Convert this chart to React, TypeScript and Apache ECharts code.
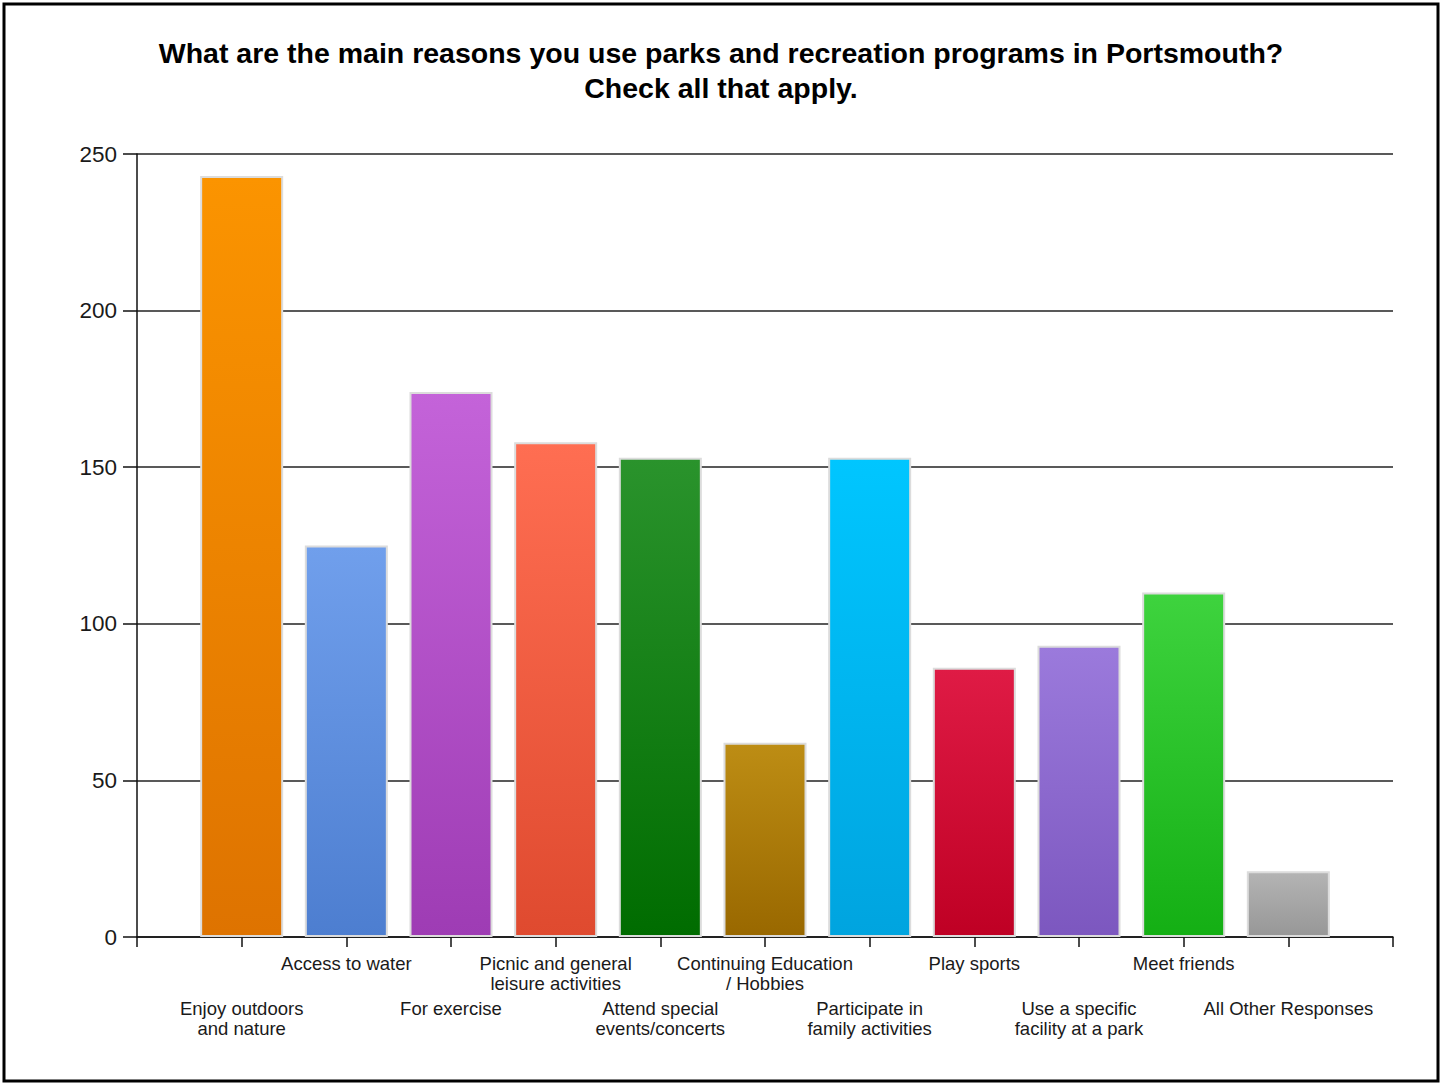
import React, { useEffect, useRef } from "react";
import * as echarts from "echarts";

const titleText =
  "What are the main reasons you use parks and recreation programs in Portsmouth?\nCheck all that apply.";

const categories = [
  "",
  "Enjoy outdoors\nand nature",
  "Access to water",
  "For exercise",
  "Picnic and general\nleisure activities",
  "Attend special\nevents/concerts",
  "Continuing Education\n/ Hobbies",
  "Participate in\nfamily activities",
  "Play sports",
  "Use a specific\nfacility at a park",
  "Meet friends",
  "All Other Responses",
  "",
];

const values = [243, 125, 174, 158, 153, 62, 153, 86, 93, 110, 21];

const topColors = [
  "#FB9400", "#709FEC", "#C463D9", "#FF6E52", "#2A932C", "#BD8D14",
  "#00C6FF", "#DF1B45", "#9B7ADC", "#3ED33E", "#B4B4B4",
];
const bottomColors = [
  "#DE7300", "#4D7ED0", "#9E3CB4", "#DF4A2F", "#006C00", "#996800",
  "#00A4DF", "#BF0024", "#7C57BF", "#14AF14", "#979797",
];

const yTicks = { min: 0, max: 250, interval: 50 };

export default function App() {
  const ref = useRef<HTMLDivElement>(null);

  useEffect(() => {
    if (!ref.current) return;
    const chart = echarts.init(ref.current, null, { renderer: "svg" });

    const barData: any[] = categories.map((c, i) => {
      if (i === 0 || i === categories.length - 1) return "-";
      const k = i - 1;
      return {
        value: values[k],
        itemStyle: {
          color: {
            type: "linear",
            x: 0,
            y: 0,
            x2: 0,
            y2: 1,
            colorStops: [
              { offset: 0, color: topColors[k] },
              { offset: 1, color: bottomColors[k] },
            ],
          },
        },
      };
    });

    const labelFont = {
      fontFamily: "Liberation Sans, Arial, sans-serif",
      fontSize: 18.5,
      lineHeight: 20,
      color: "#1a1a1a",
      align: "center" as const,
    };

    chart.setOption({
      animation: false,
      backgroundColor: "#ffffff",
      title: {
        text: titleText,
        left: "center",
        top: 30,
        textStyle: {
          fontFamily: "Liberation Sans, Arial, sans-serif",
          fontSize: 28.5,
          fontWeight: "bold",
          lineHeight: 35,
          color: "#000",
          align: "center",
        },
      },
      graphic: [
        {
          type: "rect",
          shape: { x: 4, y: 4, width: 1434, height: 1077 },
          style: { fill: "none", stroke: "#000", lineWidth: 3 },
          silent: true,
        },
      ],
      grid: { left: 137, right: 49, top: 154, bottom: 148, containLabel: false },
      xAxis: [
        {
          type: "category",
          data: categories,
          boundaryGap: false,
          position: "bottom",
          axisLine: { show: true, lineStyle: { color: "#111", width: 1.5 } },
          axisTick: { show: true, length: 10, interval: 0, lineStyle: { color: "#111", width: 1.5 } },
          axisLabel: {
            interval: 0,
            margin: 16,
            ...labelFont,
            formatter: (v: string, i: number) => (i % 2 === 0 ? v : ""),
          },
          splitLine: { show: false },
        },
        {
          type: "category",
          data: categories,
          boundaryGap: false,
          position: "bottom",
          axisLine: { show: false },
          axisTick: { show: false },
          axisLabel: {
            interval: 0,
            margin: 61,
            ...labelFont,
            formatter: (v: string, i: number) => (i % 2 === 1 ? v : ""),
          },
          splitLine: { show: false },
        },
      ],
      yAxis: {
        type: "value",
        min: yTicks.min,
        max: yTicks.max,
        interval: yTicks.interval,
        axisLine: { show: true, lineStyle: { color: "#111", width: 1.5 } },
        axisTick: { show: true, length: 14, lineStyle: { color: "#111", width: 1.5 } },
        axisLabel: {
          margin: 20,
          fontFamily: "Liberation Sans, Arial, sans-serif",
          fontSize: 22.5,
          color: "#1a1a1a",
        },
        splitLine: { show: true, lineStyle: { color: "#222", width: 1.5 } },
      },
      series: [
        {
          type: "bar",
          xAxisIndex: 0,
          data: barData,
          barWidth: 83,
          itemStyle: { borderColor: "#dcdcdc", borderWidth: 2 },
        },
      ],
    });

    return () => chart.dispose();
  }, []);

  return (
    <div
      ref={ref}
      style={{ position: "fixed", left: 0, top: 0, width: 1442, height: 1085, background: "#fff" }}
    />
  );
}
